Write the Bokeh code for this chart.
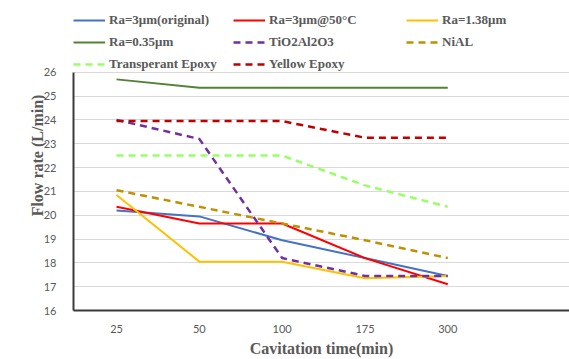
from bokeh.plotting import figure
from bokeh.models import Legend, LegendItem, FixedTicker, Range1d
from bokeh.embed import file_html
from bokeh.resources import INLINE

categories = ["25", "50", "100", "175", "300"]
ra3_orig = [20.2, 19.95, 18.95, 18.2, 17.45]
ra3_50c = [20.35, 19.65, 19.65, 18.2, 17.1]
ra138 = [20.85, 18.05, 18.05, 17.35, 17.45]
ra035 = [25.7, 25.35, 25.35, 25.35, 25.35]
tio2 = [24.0, 23.2, 18.2, 17.45, 17.45]
nial = [21.05, 20.35, 19.65, 18.95, 18.2]
transp = [22.5, 22.5, 22.5, 21.25, 20.35]
yellow = [23.95, 23.95, 23.95, 23.25, 23.25]
y_ticks = list(range(16, 27))

series = [
    ("Ra=3μm(original)", ra3_orig, "#4472C4", None),
    ("Ra=3μm@50°C", ra3_50c, "#FF0000", None),
    ("Ra=1.38μm", ra138, "#FFC000", None),
    ("Ra=0.35μm", ra035, "#548235", None),
    ("TiO2Al2O3", tio2, "#7030A0", "7 5"),
    ("NiAL", nial, "#BF9000", "7 5"),
    ("Transperant Epoxy", transp, "#99FF66", "7 5"),
    ("Yellow Epoxy", yellow, "#C00000", "7 5"),
]

xs = list(range(len(categories)))

# frame extends up to the top edge so the legend can live inside it;
# the axis and grid are bounded to the data range 16..26
p = figure(width=569, height=359, output_backend="svg", toolbar_location=None,
           x_range=Range1d(-0.52, 5.47), y_range=Range1d(16, 29.01),
           min_border_left=73, min_border_right=0, min_border_top=0, min_border_bottom=49)
p.outline_line_color = None
p.background_fill_color = "white"
p.border_fill_color = "white"

renderers = []
for name, vals, col, dash in series:
    kw = dict(line_color=col, line_width=2)
    if dash:
        kw["line_dash"] = dash
        kw["line_width"] = 2.5
    r = p.line(xs, vals, **kw)
    renderers.append((name, r))

p.xaxis.ticker = FixedTicker(ticks=xs)
p.xaxis.major_label_overrides = {i: c for i, c in enumerate(categories)}
p.yaxis.ticker = FixedTicker(ticks=y_ticks)
p.yaxis.bounds = (y_ticks[0], y_ticks[-1])
for ax in (p.xaxis, p.yaxis):
    ax.major_tick_line_color = None
    ax.minor_tick_line_color = None
    ax.axis_line_color = "#3A3A3A"
    ax.axis_line_width = 2
    ax.major_label_text_font = "Lato"
    ax.major_label_text_font_size = "11px"
    ax.major_label_text_color = "#595959"
    ax.axis_label_text_font = "Liberation Serif"
    ax.axis_label_text_font_style = "bold"
    ax.axis_label_text_font_size = "16px"
    ax.axis_label_text_color = "#595959"
p.xaxis.major_label_standoff = 8
p.yaxis.major_label_standoff = 11
p.xaxis.axis_label_standoff = 4
p.yaxis.axis_label_standoff = -5
p.xaxis.axis_label = "Cavitation time(min)"
p.yaxis.axis_label = "Flow rate (L/min)"
p.xgrid.grid_line_color = None
p.ygrid.grid_line_color = "#D9D9D9"
p.ygrid.grid_line_width = 1
p.ygrid.bounds = (y_ticks[0], y_ticks[-1])

cols = [[0, 3, 6], [1, 4, 7], [2, 5]]
col_x = [0, 160, 333]
for ci, idxs in enumerate(cols):
    items = [LegendItem(label=renderers[i][0], renderers=[renderers[i][1]]) for i in idxs]
    h = len(idxs) * 18 + (len(idxs) - 1) * 4
    leg = Legend(items=items, location=(col_x[ci], 310 - 11 - h), orientation="vertical")
    leg.background_fill_alpha = 0
    leg.border_line_color = None
    leg.padding = 0
    leg.margin = 0
    leg.spacing = 4
    leg.glyph_width = 32
    leg.glyph_height = 18
    leg.label_height = 18
    leg.label_standoff = 4
    leg.label_text_font = "Liberation Serif"
    leg.label_text_font_style = "bold"
    leg.label_text_font_size = "13px"
    leg.label_text_color = "#595959"
    p.add_layout(leg, "center")

open("out.html", "w").write(file_html(p, INLINE))
